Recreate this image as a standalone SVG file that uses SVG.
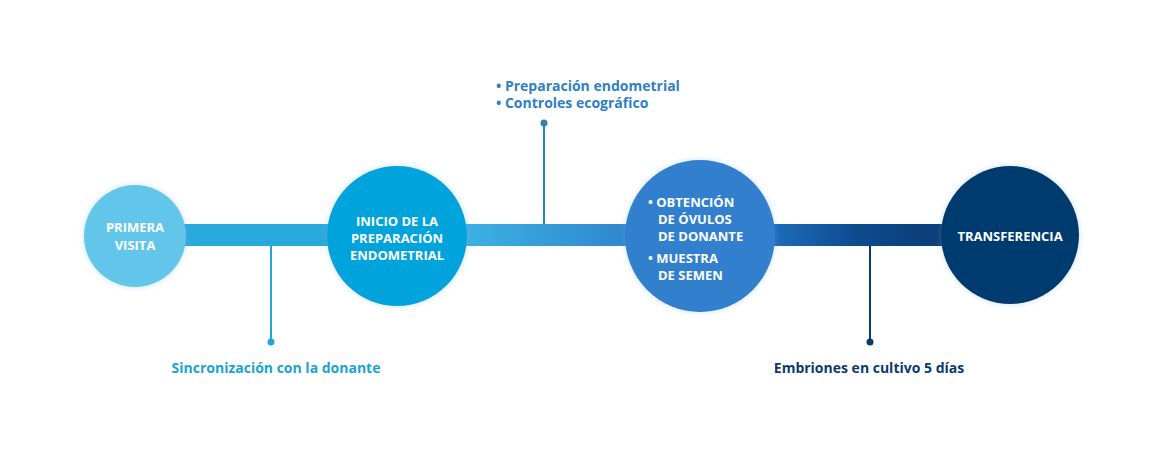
<svg xmlns="http://www.w3.org/2000/svg" width="1172" height="458" viewBox="0 0 1172 458">
<style>
text{font-family:"Open Sans","Liberation Sans",sans-serif;font-weight:bold}
.w{fill:#fff;font-size:13px;text-anchor:middle}
.l{font-size:14px}
</style>
<defs>
<linearGradient id="g1" x1="0" x2="1"><stop offset="0" stop-color="#3cb1e2"/><stop offset="1" stop-color="#2f86cf"/></linearGradient>
<linearGradient id="g2" x1="0" x2="1"><stop offset="0" stop-color="#1e6cbb"/><stop offset="0.5" stop-color="#0d4a8e"/><stop offset="1" stop-color="#0a3b74"/></linearGradient>
<filter id="sh" x="-20%" y="-20%" width="140%" height="140%"><feDropShadow dx="0" dy="0" stdDeviation="3" flood-color="#6aa8e0" flood-opacity="0.35"/></filter>
</defs>
<rect width="1172" height="458" fill="#fff"/>
<g id="connectors">
<rect x="180" y="224" width="165" height="22" fill="#2aa9dd"/>
<rect x="465" y="224" width="165" height="22" fill="url(#g1)"/>
<rect x="770" y="224" width="180" height="22" fill="url(#g2)"/>
<line x1="271" y1="246" x2="271" y2="342" stroke="#1ea6d8" stroke-width="2"/><circle cx="271" cy="342" r="3.5" fill="#1ea6d8"/>
<line x1="544" y1="123" x2="544" y2="224" stroke="#2f7fc4" stroke-width="2"/><circle cx="544" cy="123" r="3.5" fill="#2f7fc4"/>
<line x1="870" y1="246" x2="870" y2="342" stroke="#0b3a6f" stroke-width="2"/><circle cx="870" cy="342" r="3.5" fill="#0b3a6f"/>
</g>
<g id="n1"><circle cx="135" cy="236" r="51" fill="#62c6ea" filter="url(#sh)"/>
<text class="w" x="135" y="232">PRIMERA</text><text class="w" x="135" y="250">VISITA</text></g>
<g id="n2"><circle cx="397" cy="236" r="70" fill="#05a3dc" filter="url(#sh)"/>
<text class="w" x="397" y="226">INICIO DE LA</text><text class="w" x="397" y="243">PREPARACIÓN</text><text class="w" x="397" y="260">ENDOMETRIAL</text></g>
<g id="n3"><ellipse cx="700" cy="236" rx="75" ry="76" fill="#3080cd" filter="url(#sh)"/>
<text class="w" style="text-anchor:start" x="648" y="207">• OBTENCIÓN</text>
<text class="w" style="text-anchor:start" x="658" y="224">DE ÓVULOS</text>
<text class="w" style="text-anchor:start" x="658" y="241">DE DONANTE</text>
<text class="w" style="text-anchor:start" x="648" y="263">• MUESTRA</text>
<text class="w" style="text-anchor:start" x="658" y="280">DE SEMEN</text></g>
<g id="n4"><circle cx="1010" cy="235" r="69" fill="#043a70" filter="url(#sh)"/>
<text class="w" x="1010" y="241">TRANSFERENCIA</text></g>
<g id="labels">
<text class="l" x="276" y="373" fill="#1aa3d4" text-anchor="middle">Sincronización con la donante</text>
<text class="l" x="496" y="91" fill="#2f7fc4">• Preparación endometrial</text>
<text class="l" x="496" y="108" fill="#2f7fc4">• Controles ecográfico</text>
<text class="l" x="869" y="373" fill="#0b3a6f" text-anchor="middle">Embriones en cultivo 5 días</text>
</g>
</svg>
